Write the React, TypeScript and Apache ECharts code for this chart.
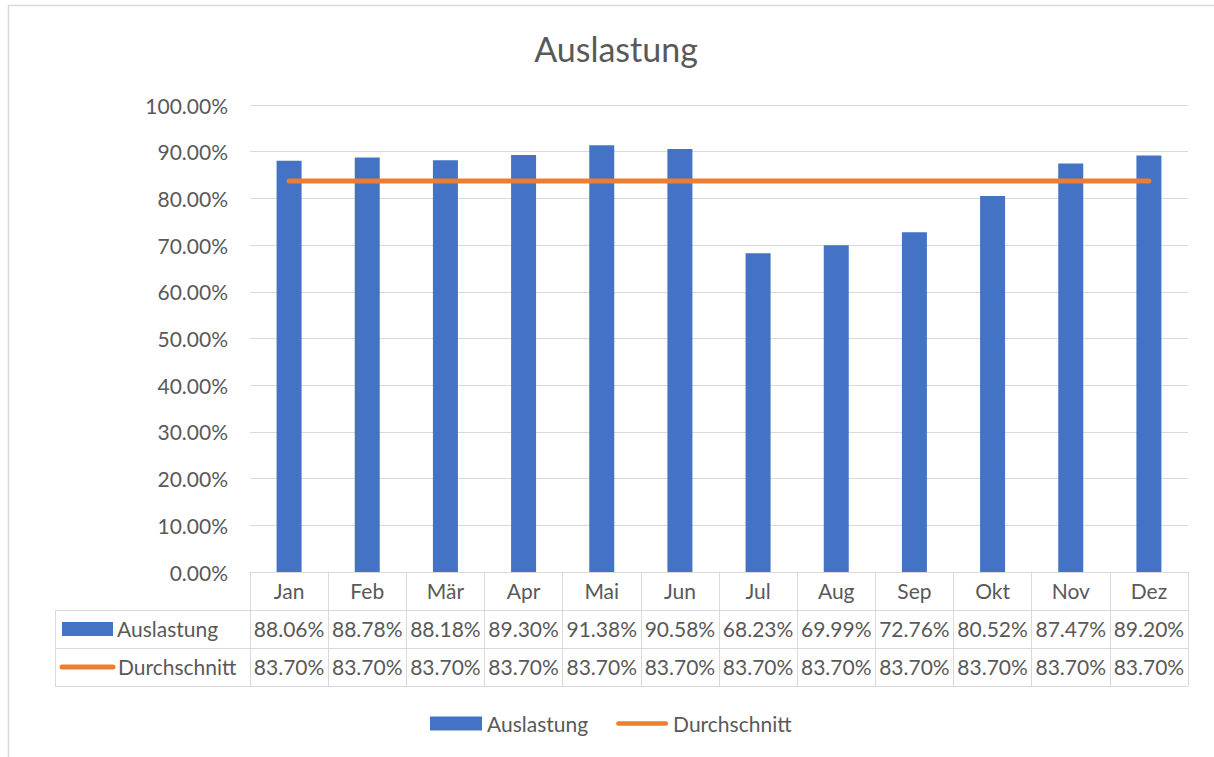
import React, { useEffect, useRef } from "react";
import * as echarts from "echarts";

const months = ["Jan", "Feb", "Mär", "Apr", "Mai", "Jun", "Jul", "Aug", "Sep", "Okt", "Nov", "Dez"];
const auslastung = [0.8806, 0.8878, 0.8818, 0.893, 0.9138, 0.9058, 0.6823, 0.6999, 0.7276, 0.8052, 0.8747, 0.892];
const durchschnitt = [0.837, 0.837, 0.837, 0.837, 0.837, 0.837, 0.837, 0.837, 0.837, 0.837, 0.837, 0.837];
const seriesNames = ["Auslastung", "Durchschnitt"];
const titleText = "Auslastung";

const FONT = "Lato, 'Noto Sans', sans-serif";
const TXT = "#595959";
const LINE = "#d9d9d9";
const BLUE = "#4472C4";
const ORANGE = "#ED7D31";

const pct = (v: number) => (v * 100).toFixed(2) + "%";

export default function App() {
  const ref = useRef<HTMLDivElement>(null);
  useEffect(() => {
    if (!ref.current) return;
    const chart = echarts.init(ref.current, undefined, { renderer: "svg" });
    const gl = 250, gr = 1188, gt = 105, gb = 572;
    chart.setOption({
      animation: false,
      backgroundColor: "#ffffff",
      title: {
        text: titleText,
        left: 611,
        textAlign: "center",
        top: 26,
        textStyle: { fontFamily: FONT, fontSize: 34, fontWeight: "normal", color: TXT },
      },
      legend: {
        top: 708,
        left: 425,
        itemWidth: 52,
        itemHeight: 14,
        itemGap: 28,
        symbolKeepAspect: true,
        textStyle: { fontFamily: FONT, fontSize: 21, color: TXT },
        data: [
          { name: seriesNames[0], icon: "rect" },
          { name: seriesNames[1], icon: "path://M2.5,0 H53.5 A2.5,2.5 0 0 1 53.5,5 H2.5 A2.5,2.5 0 0 1 2.5,0 Z", itemStyle: { color: ORANGE } },
        ],
      },
      grid: { left: gl, right: 1214 - gr, top: gt, bottom: 757 - gb },
      xAxis: [
        {
          type: "category",
          data: months,
          axisLine: { lineStyle: { color: LINE, width: 1 } },
          axisTick: { show: true, alignWithLabel: false, interval: 0, length: 114, lineStyle: { color: LINE, width: 1 } },
          axisLabel: { interval: 0, margin: 8, fontFamily: FONT, fontSize: 21, color: TXT },
        },
        {
          type: "category",
          data: months,
          position: "bottom",
          offset: 38,
          axisLine: { show: false },
          axisTick: { show: false },
          axisLabel: { interval: 0, margin: 8, fontFamily: FONT, fontSize: 21, color: TXT, formatter: (_v: string, i: number) => pct(auslastung[i]) },
        },
        {
          type: "category",
          data: months,
          position: "bottom",
          offset: 76,
          axisLine: { show: false },
          axisTick: { show: false },
          axisLabel: { interval: 0, margin: 8, fontFamily: FONT, fontSize: 21, color: TXT, formatter: (_v: string, i: number) => pct(durchschnitt[i]) },
        },
      ],
      yAxis: {
        type: "value",
        min: 0,
        max: 1,
        interval: 0.1,
        axisLine: { show: false },
        axisTick: { show: false },
        splitLine: { lineStyle: { color: LINE, width: 1 } },
        axisLabel: { margin: 22, fontFamily: FONT, fontSize: 21, color: TXT, formatter: (v: number) => pct(v) },
      },
      series: [
        {
          name: seriesNames[0],
          type: "bar",
          data: auslastung,
          barWidth: 25,
          itemStyle: { color: BLUE },
        },
        {
          name: seriesNames[1],
          type: "line",
          data: durchschnitt,
          symbol: "none",
          lineStyle: { color: ORANGE, width: 5, cap: "round" },
          itemStyle: { color: ORANGE },
        },
      ],
      graphic: [
        { type: "rect", shape: { x: 8.5, y: 5.5, width: 1220, height: 800 }, style: { fill: "none", stroke: LINE, lineWidth: 1.5 }, silent: true },
        { type: "line", shape: { x1: 55, y1: 610.5, x2: gr, y2: 610.5 }, style: { stroke: LINE, lineWidth: 1 } },
        { type: "line", shape: { x1: 55, y1: 648.5, x2: gr, y2: 648.5 }, style: { stroke: LINE, lineWidth: 1 } },
        { type: "line", shape: { x1: 55, y1: 686.5, x2: gr, y2: 686.5 }, style: { stroke: LINE, lineWidth: 1 } },
        { type: "line", shape: { x1: 55.5, y1: 610, x2: 55.5, y2: 687 }, style: { stroke: LINE, lineWidth: 1 } },
        { type: "rect", shape: { x: 62, y: 622, width: 51, height: 14 }, style: { fill: BLUE } },
        { type: "text", x: 117, y: 628, style: { text: seriesNames[0], font: `21px ${FONT}`, fill: TXT, verticalAlign: "middle" } },
        { type: "line", shape: { x1: 62, y1: 667, x2: 113, y2: 667 }, style: { stroke: ORANGE, lineWidth: 5, lineCap: "round" } },
        { type: "text", x: 118, y: 666, style: { text: seriesNames[1], font: `21px ${FONT}`, fill: TXT, verticalAlign: "middle" } },
      ],
    });
    return () => chart.dispose();
  }, []);
  return <div ref={ref} style={{ position: "fixed", left: 0, top: 0, width: 1214, height: 757 }} />;
}
